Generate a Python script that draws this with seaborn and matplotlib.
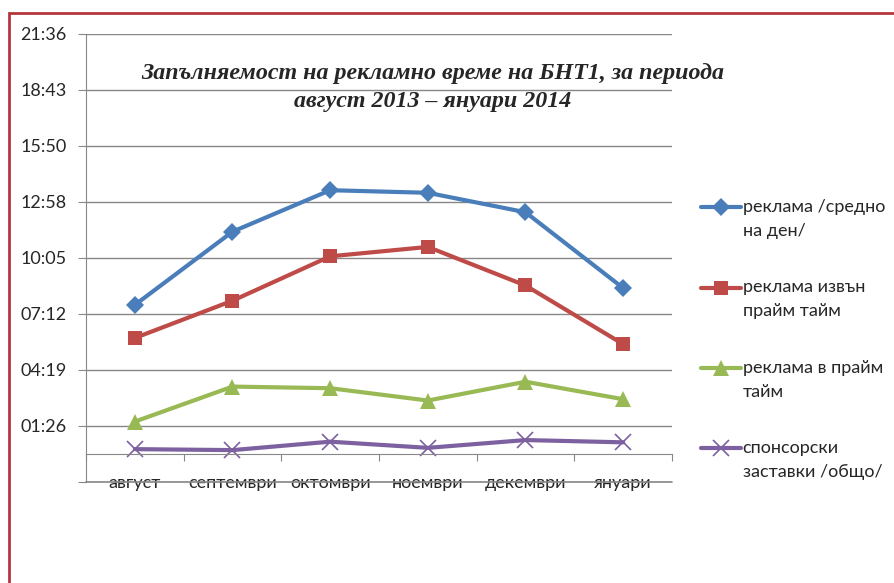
import numpy as np
import pandas as pd
import seaborn as sns
import matplotlib.pyplot as plt
from matplotlib.patches import Rectangle
from matplotlib.ticker import FuncFormatter

months = ['август', 'септември', 'октомври', 'ноември', 'декември', 'януари']

# seconds per day
reklama_sredno = [460, 686, 814, 806, 746, 512]
reklama_izvan = [358, 473, 610, 639, 520, 339]
reklama_praim = [100, 208, 203, 165, 223, 169]
sponsorski = [15, 12, 38, 19, 43, 36]

labels = ['реклама /средно\nна ден/', 'реклама извън\nпрайм тайм',
          'реклама в прайм\nтайм', 'спонсорски\nзаставки /общо/']

sns.set_style('white')
plt.rcParams['font.family'] = ['Lato', 'DejaVu Sans']

fig = plt.figure(figsize=(8.95, 5.83), dpi=100)
ax = fig.add_axes([86/895, 1-482/583, (672-86)/895, (482-34)/583])

x = np.arange(len(months))
series = [
    (reklama_sredno, '#4A7EBB', 'D', 9, labels[0]),
    (reklama_izvan, '#BE4B48', 's', 10, labels[1]),
    (reklama_praim, '#98B954', '^', 11, labels[2]),
    (sponsorski, '#7D60A0', 'x', 11, labels[3]),
]
for vals, col, mk, ms, lab in series:
    sns.lineplot(x=x, y=vals, ax=ax, color=col, marker=mk, markersize=ms,
                 markeredgecolor=col, markeredgewidth=1.2 if mk == 'x' else 0,
                 linewidth=3, label=' \n' + lab)

step = 172.8
yticks = -86.4 + step * np.arange(9)
ax.set_ylim(yticks[0], yticks[-1])
ax.set_yticks(yticks)
ax.axhline(yticks[0], color='#878787', linewidth=1.2, clip_on=False)

def fmt(v, pos):
    if v < 0:
        return ''
    s = int(round(v))
    return f'{s // 60:02d}:{s % 60:02d}'

ax.yaxis.set_major_formatter(FuncFormatter(fmt))
ax.grid(axis='y', color='#878787', linewidth=1)
ax.tick_params(axis='y', length=6, color='#878787', labelsize=13, pad=8,
               left=True)

ax.set_xlim(-0.5, len(months) - 0.5)
ax.set_xticks(np.arange(len(months) + 1) - 0.5)
ax.set_xticklabels([])
ax.set_xticks(x, minor=True)
ax.set_xticklabels(months, minor=True)
ax.tick_params(axis='x', which='major', length=5, color='#878787',
               direction='out', bottom=True)
ax.tick_params(axis='x', which='minor', length=0, labelsize=13, pad=15)

ax.spines['bottom'].set_position(('data', 0))
ax.spines['bottom'].set_color('#878787')
ax.spines['left'].set_color('#878787')
ax.spines['top'].set_visible(False)
ax.spines['right'].set_visible(False)
ax.set_xlabel('')
ax.set_ylabel('')

leg = ax.legend(loc='upper left', bbox_to_anchor=(694/895, 1-168/583),
                bbox_transform=fig.transFigure, frameon=False, fontsize=13,
                handlelength=2.2, handletextpad=0.1, labelspacing=0.93,
                borderaxespad=0)
for t in leg.get_texts():
    t.set_linespacing(1.6)

fig.text(433/895, 1-63/583,
         'Запълняемост на рекламно време на БНТ1, за периода\nавгуст 2013 – януари 2014',
         ha='center', va='top', multialignment='center',
         family='Liberation Serif', fontweight='bold', fontstyle='italic',
         fontsize=17.3, linespacing=1.42)

fig.patches.append(Rectangle((9/895, -0.1), 1.2, 1.1 - 13/583,
                             transform=fig.transFigure, fill=False,
                             edgecolor='#B3373D', linewidth=2))

fig.savefig('out.png', dpi=100)
